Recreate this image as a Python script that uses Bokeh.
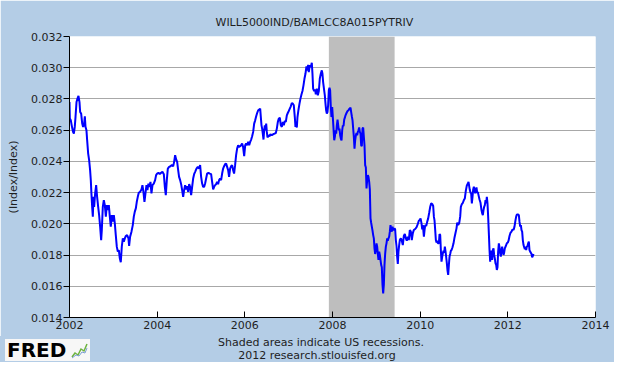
from bokeh.plotting import figure
from bokeh.layouts import column
from bokeh.models import FixedTicker, Range1d, Div
from bokeh.embed import file_html
from bokeh.resources import INLINE

series_title = "WILL5000IND/BAMLCC8A015PYTRIV"
y_label = "(Index/Index)"
note_1 = "Shaded areas indicate US recessions."
note_2 = "2012 research.stlouisfed.org"
logo_text = "FRED"

x_ticks = [2002, 2004, 2006, 2008, 2010, 2012, 2014]
x_tick_labels = ["2002", "2004", "2006", "2008", "2010", "2012", "2014"]
y_ticks = [0.014, 0.016, 0.018, 0.020, 0.022, 0.024, 0.026, 0.028, 0.030, 0.032]
y_tick_labels = ["0.014", "0.016", "0.018", "0.020", "0.022", "0.024", "0.026", "0.028", "0.030", "0.032"]

recession_start = [2007.917]
recession_end = [2009.417]

years = [
    2002.000, 2002.008, 2002.030, 2002.050, 2002.080, 2002.100, 2002.120, 2002.137, 2002.160, 2002.182,
    2002.205, 2002.228, 2002.243, 2002.266, 2002.290, 2002.310, 2002.334, 2002.350, 2002.365, 2002.387,
    2002.403, 2002.426, 2002.448, 2002.470, 2002.486, 2002.500, 2002.517, 2002.532, 2002.547, 2002.562,
    2002.585, 2002.608, 2002.630, 2002.654, 2002.676, 2002.699, 2002.722, 2002.737, 2002.760, 2002.783,
    2002.806, 2002.829, 2002.851, 2002.874, 2002.897, 2002.920, 2002.942, 2002.965, 2002.988, 2003.011,
    2003.034, 2003.056, 2003.079, 2003.102, 2003.125, 2003.148, 2003.170, 2003.193, 2003.216, 2003.239,
    2003.262, 2003.285, 2003.315, 2003.345, 2003.360, 2003.383, 2003.414, 2003.444, 2003.467, 2003.490,
    2003.513, 2003.535, 2003.558, 2003.580, 2003.611, 2003.642, 2003.664, 2003.687, 2003.710, 2003.733,
    2003.756, 2003.778, 2003.800, 2003.824, 2003.847, 2003.870, 2003.893, 2003.923, 2003.953, 2003.976,
    2004.000, 2004.030, 2004.060, 2004.090, 2004.120, 2004.152, 2004.175, 2004.197, 2004.220, 2004.243,
    2004.273, 2004.304, 2004.334, 2004.365, 2004.387, 2004.410, 2004.433, 2004.456, 2004.479, 2004.500,
    2004.524, 2004.547, 2004.570, 2004.593, 2004.615, 2004.638, 2004.661, 2004.684, 2004.707, 2004.730,
    2004.752, 2004.775, 2004.798, 2004.821, 2004.843, 2004.866, 2004.897, 2004.927, 2004.957, 2004.980,
    2005.003, 2005.026, 2005.049, 2005.071, 2005.094, 2005.117, 2005.140, 2005.170, 2005.200, 2005.231,
    2005.254, 2005.277, 2005.300, 2005.322, 2005.345, 2005.368, 2005.390, 2005.413, 2005.436, 2005.459,
    2005.482, 2005.505, 2005.527, 2005.550, 2005.573, 2005.596, 2005.619, 2005.641, 2005.664, 2005.687,
    2005.710, 2005.733, 2005.755, 2005.778, 2005.801, 2005.824, 2005.847, 2005.870, 2005.892, 2005.915,
    2005.938, 2005.960, 2005.985, 2006.008, 2006.030, 2006.053, 2006.076, 2006.099, 2006.122, 2006.145,
    2006.167, 2006.190, 2006.213, 2006.236, 2006.259, 2006.281, 2006.304, 2006.327, 2006.350, 2006.365,
    2006.380, 2006.395, 2006.410, 2006.426, 2006.441, 2006.456, 2006.471, 2006.487, 2006.502, 2006.517,
    2006.540, 2006.563, 2006.585, 2006.616, 2006.646, 2006.677, 2006.707, 2006.730, 2006.753, 2006.775,
    2006.798, 2006.821, 2006.844, 2006.867, 2006.889, 2006.912, 2006.935, 2006.958, 2006.980, 2007.003,
    2007.026, 2007.049, 2007.072, 2007.095, 2007.117, 2007.140, 2007.155, 2007.170, 2007.186, 2007.201,
    2007.224, 2007.247, 2007.269, 2007.292, 2007.315, 2007.338, 2007.360, 2007.383, 2007.406, 2007.429,
    2007.444, 2007.459, 2007.482, 2007.505, 2007.528, 2007.543, 2007.558, 2007.581, 2007.604, 2007.619,
    2007.642, 2007.665, 2007.688, 2007.710, 2007.733, 2007.756, 2007.771, 2007.786, 2007.810, 2007.825,
    2007.840, 2007.855, 2007.870, 2007.885, 2007.900, 2007.916, 2007.931, 2007.946, 2007.960, 2007.976,
    2007.993, 2008.008, 2008.023, 2008.039, 2008.054, 2008.069, 2008.084, 2008.099, 2008.115, 2008.130,
    2008.145, 2008.160, 2008.175, 2008.190, 2008.206, 2008.221, 2008.236, 2008.251, 2008.267, 2008.282,
    2008.297, 2008.320, 2008.343, 2008.365, 2008.388, 2008.411, 2008.426, 2008.441, 2008.457, 2008.472,
    2008.487, 2008.502, 2008.517, 2008.533, 2008.548, 2008.563, 2008.578, 2008.593, 2008.609, 2008.624,
    2008.639, 2008.654, 2008.669, 2008.685, 2008.700, 2008.715, 2008.730, 2008.745, 2008.761, 2008.776,
    2008.791, 2008.806, 2008.821, 2008.837, 2008.852, 2008.867, 2008.882, 2008.897, 2008.913, 2008.928,
    2008.943, 2008.958, 2008.973, 2008.989, 2009.004, 2009.019, 2009.034, 2009.049, 2009.065, 2009.080,
    2009.095, 2009.110, 2009.125, 2009.141, 2009.156, 2009.171, 2009.186, 2009.201, 2009.217, 2009.232,
    2009.247, 2009.262, 2009.277, 2009.293, 2009.308, 2009.323, 2009.338, 2009.353, 2009.369, 2009.384,
    2009.399, 2009.414, 2009.429, 2009.445, 2009.460, 2009.475, 2009.490, 2009.505, 2009.521, 2009.536,
    2009.559, 2009.581, 2009.604, 2009.627, 2009.650, 2009.673, 2009.695, 2009.718, 2009.741, 2009.764,
    2009.787, 2009.809, 2009.832, 2009.855, 2009.878, 2009.900, 2009.923, 2009.946, 2009.969, 2009.990,
    2010.009, 2010.031, 2010.047, 2010.062, 2010.085, 2010.100, 2010.115, 2010.138, 2010.161, 2010.183,
    2010.206, 2010.229, 2010.252, 2010.275, 2010.297, 2010.313, 2010.328, 2010.343, 2010.358, 2010.373,
    2010.389, 2010.404, 2010.427, 2010.442, 2010.457, 2010.472, 2010.487, 2010.503, 2010.518, 2010.533,
    2010.548, 2010.563, 2010.579, 2010.594, 2010.609, 2010.624, 2010.639, 2010.655, 2010.670, 2010.685,
    2010.700, 2010.715, 2010.738, 2010.761, 2010.784, 2010.807, 2010.829, 2010.845, 2010.867, 2010.890,
    2010.913, 2010.928, 2010.951, 2010.974, 2010.997, 2011.019, 2011.042, 2011.065, 2011.088, 2011.103,
    2011.118, 2011.133, 2011.149, 2011.164, 2011.179, 2011.194, 2011.209, 2011.225, 2011.240, 2011.255,
    2011.270, 2011.285, 2011.301, 2011.316, 2011.331, 2011.354, 2011.377, 2011.399, 2011.415, 2011.430,
    2011.445, 2011.460, 2011.475, 2011.491, 2011.506, 2011.521, 2011.536, 2011.551, 2011.567, 2011.582,
    2011.597, 2011.612, 2011.627, 2011.643, 2011.658, 2011.673, 2011.688, 2011.703, 2011.719, 2011.734,
    2011.749, 2011.764, 2011.779, 2011.795, 2011.810, 2011.825, 2011.840, 2011.855, 2011.871, 2011.886,
    2011.901, 2011.916, 2011.931, 2011.954, 2011.977, 2011.999, 2012.016, 2012.038, 2012.061, 2012.084,
    2012.107, 2012.130, 2012.152, 2012.175, 2012.190, 2012.206, 2012.228, 2012.251, 2012.266, 2012.282,
    2012.297, 2012.312, 2012.327, 2012.342, 2012.358, 2012.373, 2012.388, 2012.403, 2012.418, 2012.434,
    2012.449, 2012.464, 2012.479, 2012.494, 2012.510, 2012.525, 2012.540, 2012.555, 2012.570, 2012.586,
]

values = [
    0.02780, 0.02674, 0.02663, 0.02631, 0.02589, 0.02578, 0.02621, 0.02684, 0.02780, 0.02802,
    0.02819, 0.02780, 0.02716, 0.02706, 0.02642, 0.02621, 0.02642, 0.02689, 0.02621, 0.02599,
    0.02535, 0.02450, 0.02408, 0.02344, 0.02280, 0.02195, 0.02109, 0.02046, 0.02173, 0.02109,
    0.02195, 0.02248, 0.02173, 0.02109, 0.02056, 0.01982, 0.01896, 0.01960, 0.02109, 0.02152,
    0.02120, 0.02046, 0.02120, 0.02088, 0.02120, 0.02046, 0.01982, 0.02056, 0.02014, 0.02056,
    0.02003, 0.01928, 0.01854, 0.01822, 0.01832, 0.01779, 0.01754, 0.01854, 0.01907, 0.01886,
    0.01907, 0.01922, 0.01928, 0.01907, 0.01858, 0.01918, 0.01950, 0.01992, 0.02046, 0.02078,
    0.02099, 0.02141, 0.02173, 0.02199, 0.02205, 0.02220, 0.02248, 0.02205, 0.02141, 0.02195,
    0.02248, 0.02216, 0.02258, 0.02237, 0.02269, 0.02195, 0.02248, 0.02258, 0.02280, 0.02312,
    0.02322, 0.02327, 0.02318, 0.02327, 0.02333, 0.02318, 0.02237, 0.02184, 0.02280, 0.02354,
    0.02365, 0.02369, 0.02376, 0.02369, 0.02397, 0.02440, 0.02412, 0.02397, 0.02344, 0.02301,
    0.02280, 0.02254, 0.02216, 0.02173, 0.02216, 0.02248, 0.02220, 0.02242, 0.02205, 0.02254,
    0.02237, 0.02184, 0.02237, 0.02290, 0.02318, 0.02333, 0.02354, 0.02365, 0.02354, 0.02376,
    0.02301, 0.02258, 0.02237, 0.02237, 0.02258, 0.02290, 0.02322, 0.02327, 0.02322, 0.02318,
    0.02269, 0.02220, 0.02237, 0.02248, 0.02254, 0.02269, 0.02254, 0.02280, 0.02290, 0.02280,
    0.02322, 0.02354, 0.02369, 0.02382, 0.02386, 0.02365, 0.02344, 0.02301, 0.02354, 0.02369,
    0.02376, 0.02344, 0.02322, 0.02376, 0.02440, 0.02482, 0.02503, 0.02493, 0.02497, 0.02503,
    0.02514, 0.02493, 0.02433, 0.02503, 0.02514, 0.02503, 0.02525, 0.02503, 0.02525, 0.02540,
    0.02561, 0.02589, 0.02642, 0.02663, 0.02689, 0.02710, 0.02727, 0.02731, 0.02738, 0.02684,
    0.02631, 0.02610, 0.02578, 0.02540, 0.02599, 0.02631, 0.02599, 0.02642, 0.02589, 0.02553,
    0.02567, 0.02561, 0.02574, 0.02567, 0.02574, 0.02578, 0.02582, 0.02610, 0.02653, 0.02674,
    0.02680, 0.02631, 0.02621, 0.02653, 0.02631, 0.02659, 0.02653, 0.02695, 0.02710, 0.02723,
    0.02738, 0.02753, 0.02774, 0.02770, 0.02759, 0.02684, 0.02621, 0.02653, 0.02617, 0.02684,
    0.02731, 0.02770, 0.02802, 0.02829, 0.02851, 0.02887, 0.02929, 0.02961, 0.03008, 0.02983,
    0.03019, 0.02972, 0.03015, 0.03004, 0.03032, 0.02961, 0.02866, 0.02851, 0.02859, 0.02829,
    0.02866, 0.02823, 0.02851, 0.02929, 0.02961, 0.02983, 0.02961, 0.02908, 0.02855, 0.02823,
    0.02770, 0.02727, 0.02706, 0.02716, 0.02759, 0.02855, 0.02872, 0.02855, 0.02759, 0.02684,
    0.02748, 0.02680, 0.02610, 0.02535, 0.02557, 0.02599, 0.02578, 0.02631, 0.02668, 0.02631,
    0.02599, 0.02610, 0.02567, 0.02546, 0.02535, 0.02599, 0.02631, 0.02625, 0.02668, 0.02680,
    0.02695, 0.02710, 0.02723, 0.02727, 0.02738, 0.02744, 0.02716, 0.02689, 0.02663, 0.02610,
    0.02557, 0.02482, 0.02535, 0.02567, 0.02582, 0.02567, 0.02589, 0.02599, 0.02617, 0.02589,
    0.02578, 0.02503, 0.02497, 0.02610, 0.02617, 0.02557, 0.02503, 0.02376, 0.02361, 0.02227,
    0.02280, 0.02312, 0.02301, 0.02269, 0.02220, 0.02035, 0.02007, 0.01982, 0.01956, 0.01928,
    0.01907, 0.01843, 0.01807, 0.01832, 0.01875, 0.01854, 0.01807, 0.01769, 0.01822, 0.01801,
    0.01769, 0.01737, 0.01722, 0.01609, 0.01555, 0.01609, 0.01737, 0.01807, 0.01854, 0.01875,
    0.01907, 0.01892, 0.01907, 0.01918, 0.01950, 0.01992, 0.01965, 0.01950, 0.01982, 0.01965,
    0.01960, 0.01971, 0.01965, 0.01896, 0.01858, 0.01790, 0.01743, 0.01822, 0.01864, 0.01896,
    0.01907, 0.01892, 0.01864, 0.01922, 0.01935, 0.01907, 0.01892, 0.01918, 0.01896, 0.01960,
    0.01950, 0.01896, 0.01939, 0.01960, 0.01965, 0.01971, 0.01982, 0.01999, 0.02020, 0.02025,
    0.02035, 0.02003, 0.01965, 0.01992, 0.01918, 0.01960, 0.01992, 0.01986, 0.02014, 0.02035,
    0.02071, 0.02109, 0.02131, 0.02127, 0.02114, 0.02046, 0.02020, 0.01960, 0.01896, 0.01880,
    0.01892, 0.01875, 0.01875, 0.01935, 0.01928, 0.01832, 0.01758, 0.01790, 0.01811, 0.01828,
    0.01815, 0.01854, 0.01822, 0.01786, 0.01747, 0.01700, 0.01673, 0.01737, 0.01790, 0.01807,
    0.01828, 0.01832, 0.01850, 0.01875, 0.01913, 0.01943, 0.01971, 0.02007, 0.01992, 0.02003,
    0.02046, 0.02109, 0.02127, 0.02135, 0.02152, 0.02163, 0.02212, 0.02246, 0.02258, 0.02269,
    0.02242, 0.02216, 0.02199, 0.02195, 0.02131, 0.02173, 0.02220, 0.02237, 0.02220, 0.02195,
    0.02216, 0.02233, 0.02199, 0.02205, 0.02184, 0.02156, 0.02135, 0.02088, 0.02067, 0.02056,
    0.02088, 0.02109, 0.02120, 0.02152, 0.02131, 0.02173, 0.02131, 0.02046, 0.01939, 0.01832,
    0.01758, 0.01828, 0.01801, 0.01769, 0.01832, 0.01843, 0.01801, 0.01779, 0.01747, 0.01737,
    0.01705, 0.01722, 0.01822, 0.01875, 0.01850, 0.01811, 0.01790, 0.01832, 0.01854, 0.01822,
    0.01801, 0.01815, 0.01843, 0.01858, 0.01875, 0.01880, 0.01892, 0.01922, 0.01943, 0.01950,
    0.01965, 0.01960, 0.01982, 0.02024, 0.02046, 0.02060, 0.02060, 0.02056, 0.02014, 0.01982,
    0.01992, 0.01960, 0.01950, 0.01896, 0.01864, 0.01850, 0.01838, 0.01854, 0.01832, 0.01854,
    0.01858, 0.01875, 0.01886, 0.01832, 0.01822, 0.01815, 0.01807, 0.01786, 0.01794, 0.01807,
]

BG = "#B4CDE6"
FONT = "DejaVu Sans"
TXT = "#1e1e1e"
W = 614
FOOT_H = 26

p = figure(width=W, height=362 - FOOT_H, output_backend="svg", toolbar_location=None,
           x_range=Range1d(x_ticks[0], x_ticks[-1]), y_range=Range1d(y_ticks[0], y_ticks[-1]),
           background_fill_color="white", border_fill_color=BG,
           min_border_left=69, min_border_right=19, min_border_top=36, min_border_bottom=19)
p.outline_line_color = None

p.title.text = series_title
p.title.align = "left"
p.title.offset = 146
p.title.text_font = FONT
p.title.text_font_size = "11px"
p.title.text_font_style = "normal"
p.title.text_color = TXT
p.title.standoff = 16

p.quad(left=recession_start, right=recession_end, bottom=[y_ticks[0]], top=[y_ticks[-1]],
       fill_color="#BEBEBE", line_color=None)
p.line(years, values, line_color="#0000FF", line_width=2)

p.xgrid.visible = False
p.ygrid.ticker = FixedTicker(ticks=y_ticks)
p.ygrid.grid_line_color = "#A8A8A8"
p.ygrid.grid_line_width = 1

p.xaxis.ticker = FixedTicker(ticks=x_ticks)
p.xaxis.major_label_overrides = {t: l for t, l in zip(x_ticks, x_tick_labels)}
p.yaxis.ticker = FixedTicker(ticks=y_ticks)
p.yaxis.major_label_overrides = {t: l for t, l in zip(y_ticks, y_tick_labels)}

for ax in (p.xaxis[0], p.yaxis[0]):
    ax.axis_line_color = "black"
    ax.axis_line_width = 1
    ax.major_tick_line_color = "black"
    ax.minor_tick_line_color = None
    ax.major_label_text_font = FONT
    ax.major_label_text_font_size = "11px"
    ax.major_label_text_color = TXT

p.xaxis.major_tick_in = 6
p.xaxis.major_tick_out = 0
p.xaxis.major_label_standoff = 3
p.yaxis.major_tick_in = 0
p.yaxis.major_tick_out = 6
p.yaxis.major_label_standoff = 1
p.yaxis.axis_label = y_label
p.yaxis.axis_label_text_font = FONT
p.yaxis.axis_label_text_font_size = "11px"
p.yaxis.axis_label_text_font_style = "normal"
p.yaxis.axis_label_text_color = TXT
p.yaxis.axis_label_standoff = 8

# footer strip with the notes and the logo (HTML text)
icon = ('<svg width="17" height="18" style="position:absolute;left:66px;top:2px;">'
        '<polyline points="1,16 4,12 7,14 10,8 13,10 16,3" fill="none" stroke="#6DB33F" stroke-width="1.5"/>'
        '<polyline points="1,17 5,14 8,15 11,11 14,12 16,7" fill="none" stroke="#7B9FD4" stroke-width="1"/>'
        '</svg>')
footer_html = (
    f'<div style="position:relative;width:{W}px;height:{FOOT_H}px;background:{BG};'
    f'font-family:\'{FONT}\';font-size:11px;line-height:13px;color:{TXT};overflow:hidden;">'
    f'<div style="position:absolute;left:0;top:0px;width:642px;text-align:center;">{note_1}</div>'
    f'<div style="position:absolute;left:0;top:13px;width:634px;text-align:center;">{note_2}</div>'
    f'<div style="position:absolute;left:5px;top:3px;width:85px;height:22px;background:#F7F7F7;">'
    f'<span style="position:absolute;left:2px;top:0px;font-size:20px;line-height:22px;'
    f'font-weight:bold;color:black;">{logo_text}</span>{icon}</div>'
    f'</div>'
)
footer = Div(text=footer_html, width=W, height=FOOT_H, margin=0,
             styles={"background-color": BG})

layout = column(p, footer, spacing=0)
open("out.html", "w").write(file_html(layout, INLINE))
